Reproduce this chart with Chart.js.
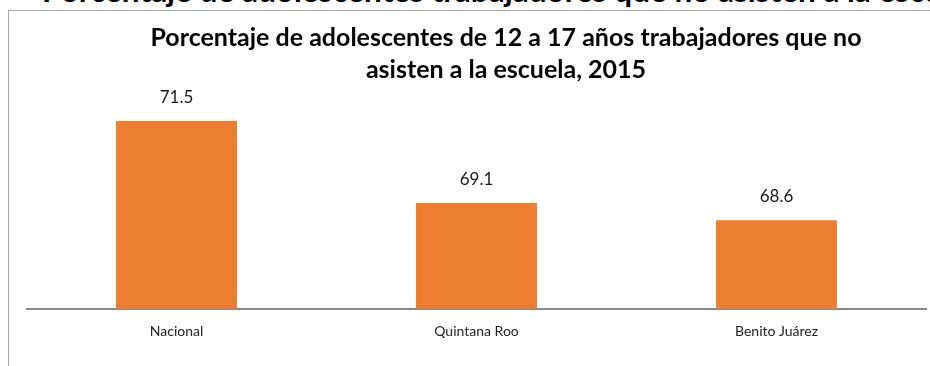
<!DOCTYPE html>
<html>
<head>
<meta charset="utf-8">
<script src="https://cdn.jsdelivr.net/npm/chart.js@4/dist/chart.umd.min.js"></script>
<style>
  html, body { margin: 0; padding: 0; width: 930px; height: 366px; overflow: hidden; background: #fff; }
  #heading {
    position: absolute; left: 42px; top: -25px;
    font: bold 31.5px Lato, sans-serif; line-height: 31.5px; color: #000;
    white-space: nowrap;
  }
  #frame {
    position: absolute; left: 8px; top: 10px; width: 996px; height: 420px;
    border: 1.5px solid #a6a6a6; box-sizing: border-box;
  }
  #wrap { position: absolute; left: 0; top: 0; width: 1012px; height: 366px; }
</style>
</head>
<body>
<div id="heading">Porcentaje de adolescentes trabajadores que no asisten a la escuela, 2015</div>
<div id="frame"></div>
<div id="wrap"><canvas id="chart" width="1012" height="366"></canvas></div>
<script>
// Regions and share (%) of working adolescents aged 12-17 not attending school, 2015
const categories = ['Nacional', 'Quintana Roo', 'Benito Juárez'];
const values = [71.5, 69.1, 68.6];
const titleLines = ['Porcentaje de adolescentes de 12 a 17 años trabajadores que no', 'asisten a la escuela, 2015'];

// Prints each bar's value above it
const valueLabels = {
  id: 'valueLabels',
  afterDatasetsDraw(chart) {
    const ctx = chart.ctx;
    const meta = chart.getDatasetMeta(0);
    ctx.save();
    ctx.font = '17px Lato, sans-serif';
    ctx.fillStyle = '#1a1a1a';
    ctx.textAlign = 'center';
    ctx.textBaseline = 'middle';
    meta.data.forEach((bar, i) => {
      ctx.fillText(values[i].toFixed(1), bar.x, bar.y - 24);
    });
    ctx.restore();
  }
};

// Invisible side axes that only reserve horizontal space around the plot
const spacer = (w, pos) => ({
  type: 'linear',
  position: pos,
  display: true,
  grid: { display: false, drawTicks: false },
  border: { display: false },
  ticks: { display: false },
  afterFit(scale) { scale.width = w; }
});

new Chart(document.getElementById('chart'), {
  type: 'bar',
  data: {
    labels: categories,
    datasets: [{
      data: values,
      backgroundColor: '#ED7D31',
      borderWidth: 0,
      categoryPercentage: 1.0,
      barPercentage: 0.403,
      yAxisID: 'y'
    }]
  },
  options: {
    responsive: false,
    animation: false,
    devicePixelRatio: 1,
    layout: { padding: 0 },
    plugins: {
      legend: { display: false },
      tooltip: { enabled: false },
      title: {
        display: true,
        text: titleLines,
        color: '#000',
        font: { family: 'Lato, sans-serif', size: 25, weight: 'bold', lineHeight: 1.28 },
        padding: { top: 21.5, bottom: 18.5 }
      }
    },
    scales: {
      x: {
        grid: { display: false, drawTicks: false },
        border: { display: true, color: '#898989', width: 2 },
        ticks: { color: '#222', font: { family: 'Lato, sans-serif', size: 14 }, padding: 14, maxRotation: 0 },
        afterFit(scale) { scale.height = 57; }
      },
      y: Object.assign(spacer(26.5, 'left'), { min: 66, max: 72 }),
      yRight: spacer(85.5, 'right')
    }
  },
  plugins: [valueLabels]
});
</script>
</body>
</html>
